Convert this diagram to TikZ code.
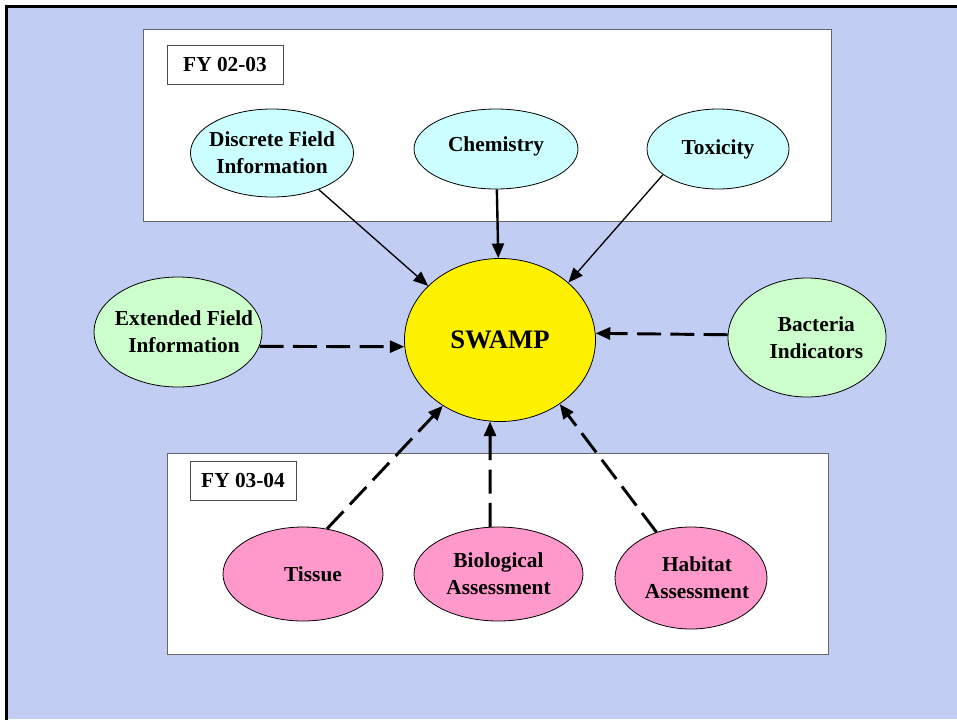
\documentclass[tikz,border=0pt]{standalone}
\usepackage{fontspec}
\setmainfont{Liberation Serif}
\usetikzlibrary{shapes.geometric,arrows.meta}
\definecolor{bgblue}{RGB}{194,205,243}
\definecolor{lcyan}{RGB}{204,255,255}
\definecolor{lgreen}{RGB}{204,255,204}
\definecolor{lpink}{RGB}{255,153,204}
\begin{document}
\begin{tikzpicture}[x=0.75pt, y=-0.75pt,
    oval/.style={ellipse, draw, line width=0.6pt, inner sep=0pt, align=center, font=\fontsize{16}{20}\selectfont\bfseries},
    panel/.style={rectangle, draw=black!60, fill=white, line width=0.75pt},
    tag/.style={rectangle, draw=black!70, fill=white, line width=0.75pt, font=\fontsize{16}{18}\selectfont\bfseries},
    link/.style={-{Triangle[length=11pt,width=9pt]}, line width=1pt},
    dlink/.style={-{Triangle[length=11pt,width=9pt]}, line width=2.2pt, dash pattern=on 18pt off 7pt}]
\useasboundingbox (0,0) rectangle (957,719);
\fill[bgblue] (7,7) rectangle (957,719);
\draw[line width=2.4pt] (6.7,730) |- (970,6.7);

% the two year panels
\node[panel, minimum width=516pt, minimum height=144pt] (P1) at (487,125) {};
\node[panel, minimum width=495.75pt, minimum height=150.75pt] (P2) at (497.5,553.5) {};
\node[tag, minimum width=87pt, minimum height=29.25pt] (F1) at (225,64.5) {FY 02-03};
\node[tag, minimum width=79.5pt, minimum height=29.25pt] (F2) at (243,480.5) {FY 03-04};

\node[oval, fill=yellow, minimum width=143.25pt, minimum height=122.25pt, font=\fontsize{20}{24}\selectfont\bfseries] (S) at (500,340) {SWAMP};
\node[oval, fill=lcyan, minimum width=122.25pt, minimum height=66pt] (D) at (272,153) {\makebox[0pt]{Discrete Field}\\\makebox[0pt]{Information}};
\node[oval, fill=lcyan, minimum width=123pt, minimum height=60pt] (C) at (496,149) {\raisebox{7pt}{Chemistry}};
\node[oval, fill=lcyan, minimum width=106.5pt, minimum height=60pt] (T) at (718,149) {Toxicity};
\node[oval, fill=lgreen, minimum width=126pt, minimum height=82.5pt] (E) at (178,332) {\makebox[0pt]{\hspace{9pt}Extended Field}\\\makebox[0pt]{\hspace{9pt}Information}};
\node[oval, fill=lgreen, minimum width=118.5pt, minimum height=89.25pt] (B) at (807,337.5) {\makebox[0pt]{\hspace{14pt}Bacteria}\\\makebox[0pt]{\hspace{14pt}Indicators}};
\node[oval, fill=lpink, minimum width=120pt, minimum height=70.5pt] (Ti) at (303,574) {\makebox[0pt]{\hspace{15pt}Tissue}};
\node[oval, fill=lpink, minimum width=126.75pt, minimum height=70.5pt] (Bio) at (498.5,574) {\makebox[0pt]{Biological}\\\makebox[0pt]{Assessment}};
\node[oval, fill=lpink, minimum width=114pt, minimum height=76.5pt] (H) at (691,578) {\makebox[0pt]{\hspace{9pt}Habitat}\\\makebox[0pt]{\hspace{9pt}Assessment}};

\draw[link] (D.322) -- (S.143);
\draw[link, line width=1.8pt] (C) -- (S);
\draw[link] (T.205) -- (S.40);
\draw[dlink] (E.350) -- (S.184);
\draw[dlink] (B.178) -- (S.4);
\draw[dlink] (Ti.62) -- (S.229);
\draw[dlink] (Bio.100) -- (S.263);
\draw[dlink] (H.127) -- (S.313);
\end{tikzpicture}
\end{document}
